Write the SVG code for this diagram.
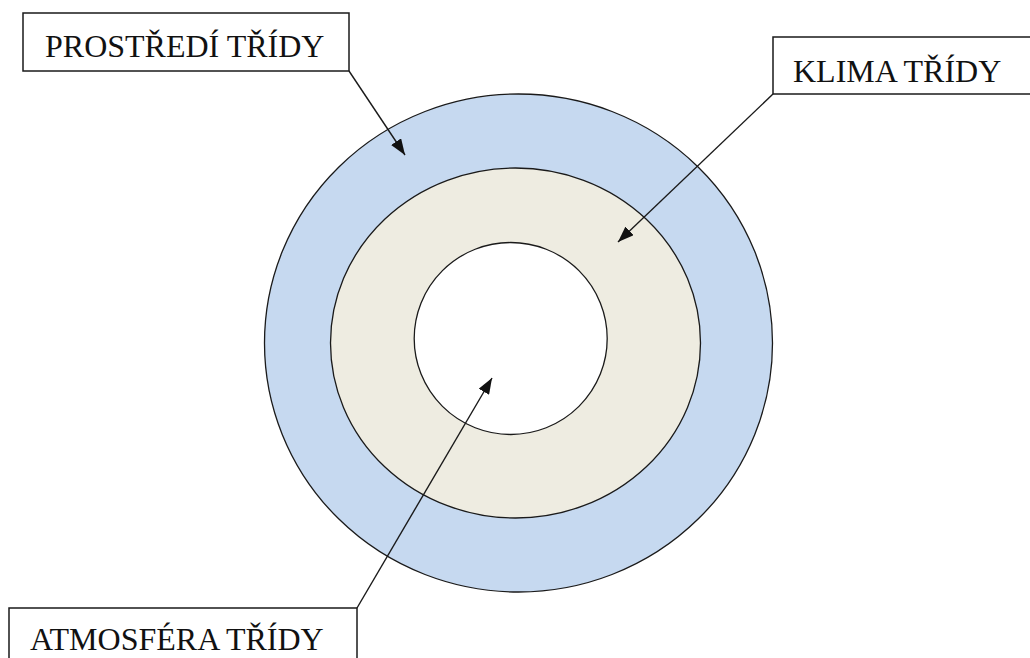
<svg xmlns="http://www.w3.org/2000/svg" width="1030" height="658" viewBox="0 0 1030 658">
  <style>
    .ring { stroke: #1a1a1a; stroke-width: 1.3; }
    .box { fill: #ffffff; stroke: #1a1a1a; stroke-width: 1.5; }
    .label { font-family: "Liberation Serif", "Times New Roman", serif; font-size: 32px; fill: #111111; }
    .link { stroke: #1a1a1a; stroke-width: 1.4; fill: none; marker-end: url(#tip); }
  </style>
  <defs>
    <marker id="tip" viewBox="0 0 16 12" refX="16" refY="6" markerWidth="16" markerHeight="12" markerUnits="userSpaceOnUse" orient="auto">
      <path d="M0,0 L16,6 L0,12 Z" fill="#111111"/>
    </marker>
  </defs>
  <rect width="1030" height="658" fill="#ffffff"/>

  <!-- concentric layers -->
  <g id="prostredi">
    <ellipse class="ring" cx="518.5" cy="343" rx="254" ry="249" fill="#c6d9f0"/>
  </g>
  <g id="klima">
    <ellipse class="ring" cx="515.5" cy="343" rx="185" ry="175" fill="#eeece1"/>
  </g>
  <g id="atmosfera">
    <ellipse class="ring" cx="510.7" cy="338.5" rx="96.5" ry="96" fill="#ffffff"/>
  </g>

  <!-- pointers from the captions -->
  <g id="connectors">
    <line class="link" x1="349" y1="71" x2="405" y2="155"/>
    <line class="link" x1="773" y1="94" x2="618" y2="242"/>
    <line class="link" x1="357" y1="608" x2="492" y2="378"/>
  </g>

  <!-- captions -->
  <g id="label-prostredi">
    <rect class="box" x="23" y="13" width="326" height="58"/>
    <text class="label" x="45" y="57">PROSTŘEDÍ TŘÍDY</text>
  </g>
  <g id="label-klima">
    <rect class="box" x="773" y="37" width="270" height="57"/>
    <text class="label" x="793" y="82">KLIMA TŘÍDY</text>
  </g>
  <g id="label-atmosfera">
    <rect class="box" x="9" y="608" width="348" height="70"/>
    <text class="label" x="30" y="650">ATMOSFÉRA TŘÍDY</text>
  </g>
</svg>
